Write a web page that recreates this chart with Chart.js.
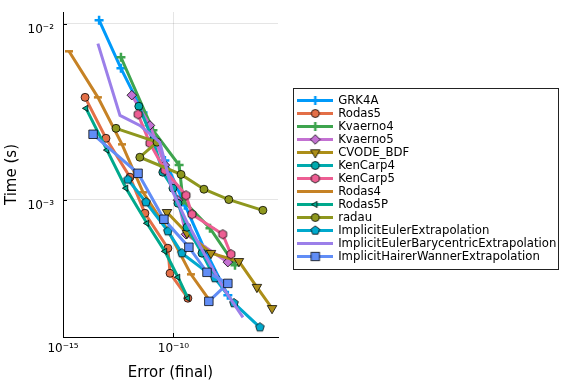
<!DOCTYPE html>
<html>
<head>
<meta charset="utf-8">
<script src="https://cdn.jsdelivr.net/npm/chart.js@4.4.1/dist/chart.umd.min.js"></script>
<style>
  html, body { margin: 0; padding: 0; background: #fff; }
</style>
</head>
<body>
<canvas id="myChart" width="576" height="384"></canvas>
<script>
// axis ranges and ticks
const errRange = [1e-15, 5.4e-6];
const timeRange = [1.656e-4, 1.164e-2];
const errTicks = [1e-15, 1e-10];
const timeTicks = [1e-3, 1e-2];

const seriesNames = ['GRK4A', 'Rodas5', 'Kvaerno4', 'Kvaerno5', 'CVODE_BDF', 'KenCarp4', 'KenCarp5',
  'Rodas4', 'Rodas5P', 'radau', 'ImplicitEulerExtrapolation', 'ImplicitEulerBarycentricExtrapolation',
  'ImplicitHairerWannerExtrapolation'];

// error (final) / time (s) per method
const grk4aErr = [4.3e-14, 4.2e-13, 4.2e-12, 4.1e-11, 3.3e-10, 2.7e-9, 2.9e-8];
const grk4aTime = [1.045e-2, 5.57e-3, 3.13e-3, 1.67e-3, 9.29e-4, 5.15e-4, 2.86e-4];
const rodas5Err = [1.0e-14, 8.8e-14, 1.08e-12, 5.1e-12, 5.6e-11, 7.0e-11, 4.5e-10];
const rodas5Time = [3.81e-3, 2.23e-3, 1.34e-3, 8.36e-4, 5.29e-4, 3.81e-4, 2.75e-4];
const kvaerno4Err = [4.2e-13, 1.18e-11, 1.8e-10, 2.7e-10, 4.5e-9, 6.1e-8];
const kvaerno4Time = [6.44e-3, 2.48e-3, 1.57e-3, 9.91e-4, 6.87e-4, 4.24e-4];
const kvaerno5Err = [1.3e-12, 8.6e-12, 4.1e-11, 1.6e-10, 3.7e-10, 2.9e-8];
const kvaerno5Time = [3.92e-3, 2.64e-3, 1.57e-3, 9.91e-4, 6.35e-4, 4.41e-4];
const cvodeErr = [5.1e-11, 4.1e-10, 5.0e-9, 9.2e-8, 6.0e-7, 2.9e-6];
const cvodeTime = [8.47e-4, 6.44e-4, 4.96e-4, 4.46e-4, 3.18e-4, 2.41e-4];
const kenCarp4Err = [2.7e-12, 1.18e-11, 3.3e-11, 9.5e-11, 1.6e-10, 4.1e-10, 1.95e-9, 5.5e-9];
const kenCarp4Time = [3.39e-3, 2.17e-3, 1.43e-3, 1.16e-3, 9.53e-4, 6.96e-4, 4.96e-4, 3.86e-4];
const kenCarp5Err = [2.5e-12, 8.6e-12, 4.1e-11, 3.7e-10, 6.9e-10, 1.7e-8, 4.0e-8];
const kenCarp5Time = [3.05e-3, 2.09e-3, 1.47e-3, 1.057e-3, 8.25e-4, 6.35e-4, 4.89e-4];
const rodas4Err = [1.87e-15, 3.8e-14, 4.7e-13, 4.2e-12, 5.6e-11, 6.2e-10, 4.0e-9];
const rodas4Time = [6.96e-3, 3.81e-3, 2.06e-3, 1.10e-3, 6.69e-4, 3.76e-4, 2.71e-4];
const rodas5PErr = [1.1e-14, 9.8e-14, 7.1e-13, 6.3e-12, 4.1e-11, 1.6e-10, 4.5e-10];
const rodas5PTime = [3.30e-3, 1.91e-3, 1.16e-3, 7.33e-4, 5.08e-4, 3.62e-4, 2.75e-4];
const radauErr = [2.5e-13, 1.8e-11, 3.0e-12, 2.2e-10, 2.4e-9, 3.2e-8, 1.12e-6];
const radauTime = [2.54e-3, 2.12e-3, 1.74e-3, 1.39e-3, 1.145e-3, 1.0e-3, 8.69e-4];
const ieExtrapErr = [8.7e-13, 5.7e-12, 5.6e-11, 2.4e-10, 7.5e-9, 5.5e-8, 8.2e-7];
const ieExtrapTime = [1.30e-3, 9.66e-4, 6.61e-4, 4.96e-4, 3.58e-4, 2.58e-4, 1.88e-4];
const ieBaryErr = [3.8e-14, 3.8e-13, 3.0e-12, 2.4e-11, 8.6e-11, 4.1e-10, 2.7e-9, 2.1e-8, 1.4e-7];
const ieBaryTime = [7.7e-3, 3.01e-3, 2.64e-3, 2.12e-3, 1.13e-3, 7.43e-4, 4.83e-4, 3.05e-4, 2.14e-4];
const hwExtrapErr = [2.3e-14, 2.5e-12, 3.7e-11, 5.0e-10, 3.3e-9, 2.9e-8, 4.0e-9];
const hwExtrapTime = [2.35e-3, 1.41e-3, 7.73e-4, 5.36e-4, 3.86e-4, 3.34e-4, 2.64e-4];

const errs = [grk4aErr, rodas5Err, kvaerno4Err, kvaerno5Err, cvodeErr, kenCarp4Err, kenCarp5Err,
  rodas4Err, rodas5PErr, radauErr, ieExtrapErr, ieBaryErr, hwExtrapErr];
const times = [grk4aTime, rodas5Time, kvaerno4Time, kvaerno5Time, cvodeTime, kenCarp4Time, kenCarp5Time,
  rodas4Time, rodas5PTime, radauTime, ieExtrapTime, ieBaryTime, hwExtrapTime];

const colors = ['#009AFA', '#E36F47', '#3EA44E', '#C371D2', '#AC8E18', '#00AAAE', '#ED5E93',
  '#C68225', '#00A98D', '#8E971E', '#00A9CD', '#9B7FE9', '#618DF6'];
const markers = ['cross', 'circle', 'cross', 'diamond', 'down', 'circle', 'hexagon',
  'hline', 'left', 'circle', 'pentagon', 'none', 'square'];

const FONT = 'DejaVu Sans';
const STROKE = 'rgba(0,0,0,0.85)';

function drawMarker(ctx, style, x, y, color) {
  ctx.save();
  ctx.fillStyle = color;
  ctx.strokeStyle = STROKE;
  ctx.lineWidth = 0.9;
  const poly = (n, r, rot) => {
    ctx.beginPath();
    for (let k = 0; k < n; k++) {
      const a = rot + k * 2 * Math.PI / n;
      ctx.lineTo(x + r * Math.sin(a), y - r * Math.cos(a));
    }
    ctx.closePath();
    ctx.fill();
    ctx.stroke();
  };
  if (style === 'cross') {
    ctx.strokeStyle = color;
    ctx.lineWidth = 2.5;
    ctx.beginPath();
    ctx.moveTo(x - 4.5, y); ctx.lineTo(x + 4.5, y);
    ctx.moveTo(x, y - 4.5); ctx.lineTo(x, y + 4.5);
    ctx.stroke();
  } else if (style === 'circle') {
    ctx.beginPath();
    ctx.arc(x, y, 4, 0, 2 * Math.PI);
    ctx.fill();
    ctx.stroke();
  } else if (style === 'diamond') {
    poly(4, 4.8, 0);
  } else if (style === 'down') {
    poly(3, 5.5, Math.PI);
  } else if (style === 'left') {
    poly(3, 3.6, -Math.PI / 2);
  } else if (style === 'hexagon') {
    poly(6, 4.6, 0);
  } else if (style === 'pentagon') {
    poly(5, 4.6, 0);
  } else if (style === 'square') {
    ctx.fillRect(x - 4.2, y - 4.2, 8.4, 8.4);
    ctx.strokeRect(x - 4.2, y - 4.2, 8.4, 8.4);
  }
  ctx.restore();
}

function pointImage(style, color) {
  const c = document.createElement('canvas');
  c.width = 12; c.height = 12;
  drawMarker(c.getContext('2d'), style, 6, 6, color);
  return c;
}

function legendIcon(style, color) {
  const c = document.createElement('canvas');
  c.width = 36; c.height = 13;
  const ctx = c.getContext('2d');
  ctx.strokeStyle = color;
  ctx.lineWidth = 3;
  ctx.beginPath();
  ctx.moveTo(0, 6.5);
  ctx.lineTo(36, 6.5);
  ctx.stroke();
  if (style !== 'none' && style !== 'hline') drawMarker(ctx, style, 18, 6.5, color);
  return c;
}

function pointOpts(style, color) {
  switch (style) {
    case 'cross':
      return { pointStyle: 'cross', pointRadius: 4.5, pointBorderWidth: 2.5, pointBorderColor: color, pointBackgroundColor: color };
    case 'circle':
      return { pointStyle: 'circle', pointRadius: 4, pointBorderWidth: 0.9, pointBorderColor: STROKE, pointBackgroundColor: color };
    case 'diamond':
      return { pointStyle: 'rectRot', pointRadius: 4.8, pointBorderWidth: 0.9, pointBorderColor: STROKE, pointBackgroundColor: color };
    case 'down':
      return { pointStyle: 'triangle', pointRotation: 180, pointRadius: 5.5, pointBorderWidth: 0.9, pointBorderColor: STROKE, pointBackgroundColor: color };
    case 'left':
      return { pointStyle: 'triangle', pointRotation: 270, pointRadius: 3.6, pointBorderWidth: 0.9, pointBorderColor: STROKE, pointBackgroundColor: color };
    case 'hline':
      return { pointStyle: 'line', pointRadius: 4, pointBorderWidth: 2.5, pointBorderColor: color, pointBackgroundColor: color };
    case 'square':
      return { pointStyle: 'rect', pointRadius: 6, pointBorderWidth: 0.9, pointBorderColor: STROKE, pointBackgroundColor: color };
    case 'hexagon':
    case 'pentagon':
      return { pointStyle: pointImage(style, color), pointRadius: 5 };
    default:
      return { pointRadius: 0 };
  }
}

function expLabel(v) {
  const sup = { '-': '\u207B', '0': '\u2070', '1': '\u00B9', '2': '\u00B2', '3': '\u00B3', '4': '\u2074',
    '5': '\u2075', '6': '\u2076', '7': '\u2077', '8': '\u2078', '9': '\u2079' };
  const e = Math.round(Math.log10(v));
  return '10' + String(e).split('').map(c => sup[c]).join('');
}

const legendIcons = seriesNames.map((n, i) => legendIcon(markers[i], colors[i]));

const datasets = seriesNames.map((name, i) => Object.assign({
  label: name,
  data: errs[i].map((x, k) => ({ x: x, y: times[i][k] })),
  showLine: true,
  borderColor: colors[i],
  backgroundColor: colors[i],
  borderWidth: 3,
  tension: 0,
  order: seriesNames.length - i
}, pointOpts(markers[i], colors[i])));

// put the legend next to the plot and frame it
const legendFrame = {
  id: 'legendFrame',
  afterLayout(chart) {
    const l = chart.legend;
    const w = l.width;
    l.left = chart.chartArea.right + 19;
    l.right = l.left + w;
    l.top = chart.chartArea.top + 4;
    l.bottom = chart.chartArea.bottom + 4;
  },
  afterDraw(chart) {
    const hb = chart.legend.legendHitBoxes;
    if (!hb || !hb.length) return;
    const left = hb[0].left - 5;
    const top = hb[0].top - 6.5;
    const right = hb[0].left + Math.max(...hb.map(h => h.width)) + 2;
    const last = hb[hb.length - 1];
    const bottom = last.top + last.height + 6.5;
    const ctx = chart.ctx;
    ctx.save();
    ctx.strokeStyle = '#222';
    ctx.lineWidth = 1;
    ctx.strokeRect(Math.round(left) + 0.5, Math.round(top) + 0.5, Math.round(right - left), Math.round(bottom - top));
    ctx.restore();
  }
};

// short inward tick marks, as on the reference axes
const innerTicks = {
  id: 'innerTicks',
  beforeDatasetsDraw(chart) {
    const { ctx, chartArea, scales } = chart;
    ctx.save();
    ctx.strokeStyle = '#000';
    ctx.lineWidth = 1;
    ctx.beginPath();
    errTicks.forEach(v => {
      const px = Math.round(scales.x.getPixelForValue(v)) + 0.5;
      ctx.moveTo(px, chartArea.bottom);
      ctx.lineTo(px, chartArea.bottom - 4);
    });
    timeTicks.forEach(v => {
      const py = Math.round(scales.y.getPixelForValue(v)) + 0.5;
      ctx.moveTo(chartArea.left, py);
      ctx.lineTo(chartArea.left + 4, py);
    });
    ctx.stroke();
    ctx.restore();
  }
};

const ctx = document.getElementById('myChart').getContext('2d');
const chart = new Chart(ctx, {
  type: 'scatter',
  data: { datasets: datasets },
  plugins: [legendFrame, innerTicks],
  options: {
    responsive: false,
    animation: false,
    events: [],
    layout: { padding: { top: 12, right: 20, bottom: 0, left: 0 } },
    plugins: {
      tooltip: { enabled: false },
      legend: {
        position: 'right',
        align: 'center',
        maxWidth: 400,
        labels: {
          usePointStyle: true,
          pointStyleWidth: 34,
          padding: 1.3,
          color: '#000',
          font: { family: FONT, size: 11.7 },
          generateLabels: chart => chart.data.datasets.map((ds, i) => ({
            text: ds.label,
            pointStyle: legendIcons[i],
            fillStyle: ds.borderColor,
            strokeStyle: ds.borderColor,
            lineWidth: 0,
            hidden: false,
            fontColor: '#000',
            datasetIndex: i
          }))
        }
      }
    },
    scales: {
      x: {
        type: 'logarithmic',
        position: 'bottom',
        min: errRange[0],
        max: errRange[1],
        afterBuildTicks: s => { s.ticks = errTicks.map(v => ({ value: v })); },
        afterFit: s => { s.height = 47; },
        ticks: { callback: v => expLabel(v), color: '#000', font: { family: FONT, size: 12 }, padding: 5, maxRotation: 0 },
        grid: { color: 'rgba(0,0,0,0.1)', drawTicks: false },
        border: { color: '#000', width: 1 },
        title: { display: true, text: 'Error (final)', color: '#000', font: { family: FONT, size: 15 }, padding: { top: 0, bottom: 2 } }
      },
      y: {
        type: 'logarithmic',
        position: 'left',
        min: timeRange[0],
        max: timeRange[1],
        afterBuildTicks: s => { s.ticks = timeTicks.map(v => ({ value: v })); },
        afterFit: s => { s.width = 63; s.paddingTop = 0; s.paddingBottom = 0; },
        ticks: { callback: v => expLabel(v), color: '#000', font: { family: FONT, size: 12 }, padding: 9, labelOffset: 6 },
        grid: { color: 'rgba(0,0,0,0.1)', drawTicks: false },
        border: { color: '#000', width: 1 },
        title: { display: true, text: 'Time (s)', color: '#000', font: { family: FONT, size: 15 }, padding: { top: 3, bottom: 0 } }
      }
    }
  }
});

// make the plot area end where the reference's does
const dr = chart.chartArea.right - 278;
if (Math.abs(dr) > 0.5) {
  chart.options.layout.padding.right += dr;
  chart.update();
}
</script>
</body>
</html>
